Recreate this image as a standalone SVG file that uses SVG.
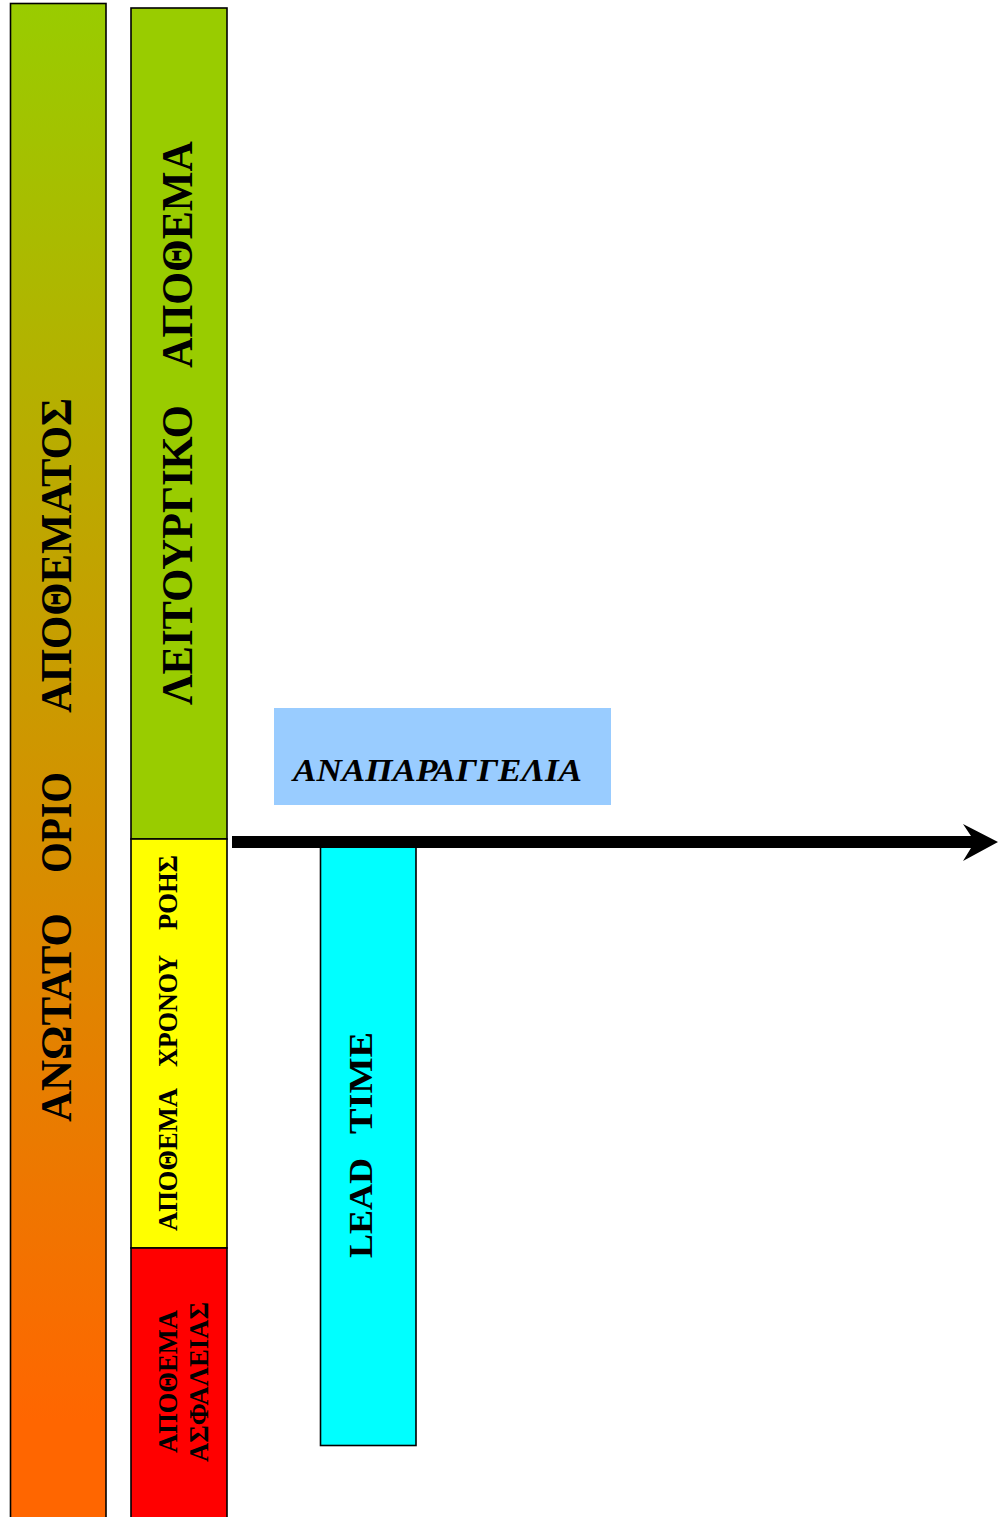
<svg xmlns="http://www.w3.org/2000/svg" width="998" height="1517" viewBox="0 0 998 1517">
<defs>
<linearGradient id="gl" gradientUnits="userSpaceOnUse" x1="0" y1="3" x2="0" y2="1420">
<stop offset="0" stop-color="#99CC00"/>
<stop offset="1" stop-color="#FF6600"/>
</linearGradient>
</defs>
<style>
.bx{stroke:#000;stroke-width:1.6}
.t{font-family:"Liberation Serif","Times New Roman",serif;font-weight:bold;fill:#000}
</style>
<rect width="998" height="1517" fill="#fff"/>
<g id="upper-limit">
<rect class="bx" x="10.5" y="3.5" width="95.5" height="1520" fill="url(#gl)"/>
<text class="t" font-size="44" transform="translate(71,1122) rotate(-90)" textLength="209" lengthAdjust="spacingAndGlyphs">ΑΝΩΤΑΤΟ</text>
<text class="t" font-size="44" transform="translate(71,873) rotate(-90)" textLength="101" lengthAdjust="spacingAndGlyphs">ΟΡΙΟ</text>
<text class="t" font-size="44" transform="translate(71,713) rotate(-90)" textLength="315" lengthAdjust="spacingAndGlyphs">ΑΠΟΘΕΜΑΤΟΣ</text>
</g>
<g id="operating-stock">
<rect class="bx" x="131" y="8" width="96" height="831" fill="#99CC00"/>
<text class="t" font-size="44" transform="translate(192,705) rotate(-90)" textLength="300" lengthAdjust="spacingAndGlyphs">ΛΕΙΤΟΥΡΓΙΚΟ</text>
<text class="t" font-size="44" transform="translate(192,368) rotate(-90)" textLength="227" lengthAdjust="spacingAndGlyphs">ΑΠΟΘΕΜΑ</text>
</g>
<g id="flow-time-stock">
<rect class="bx" x="131" y="839" width="96" height="409" fill="#FFFF00"/>
<text class="t" font-size="28" transform="translate(177,1231) rotate(-90)" textLength="143" lengthAdjust="spacingAndGlyphs">ΑΠΟΘΕΜΑ</text>
<text class="t" font-size="28" transform="translate(177,1067) rotate(-90)" textLength="112" lengthAdjust="spacingAndGlyphs">ΧΡΟΝΟΥ</text>
<text class="t" font-size="28" transform="translate(177,930) rotate(-90)" textLength="75" lengthAdjust="spacingAndGlyphs">ΡΟΗΣ</text>
</g>
<g id="safety-stock">
<rect class="bx" x="131" y="1248" width="96" height="280" fill="#FF0000"/>
<text class="t" font-size="27" transform="translate(177,1453) rotate(-90)" textLength="143" lengthAdjust="spacingAndGlyphs">ΑΠΟΘΕΜΑ</text>
<text class="t" font-size="27" transform="translate(208,1462) rotate(-90)" textLength="160" lengthAdjust="spacingAndGlyphs">ΑΣΦΑΛΕΙΑΣ</text>
</g>
<g id="reorder">
<rect x="274" y="708" width="337" height="97" fill="#99CCFF"/>
<text class="t" font-size="32" font-style="italic" x="293" y="781" textLength="289" lengthAdjust="spacingAndGlyphs">ΑΝΑΠΑΡΑΓΓΕΛΙΑ</text>
</g>
<g id="lead-time">
<rect class="bx" x="320.5" y="845.5" width="95.5" height="600" fill="#00FFFF"/>
<text class="t" font-size="33" transform="translate(372,1258) rotate(-90)" textLength="100" lengthAdjust="spacingAndGlyphs">LEAD</text>
<text class="t" font-size="33" transform="translate(372,1134) rotate(-90)" textLength="102" lengthAdjust="spacingAndGlyphs">TIME</text>
</g>
<g id="connectors">
<path d="M232,836 L971,836 L963,824 L998,842 L963,861 L971,848 L232,848 Z" fill="#000"/>
</g>
</svg>
